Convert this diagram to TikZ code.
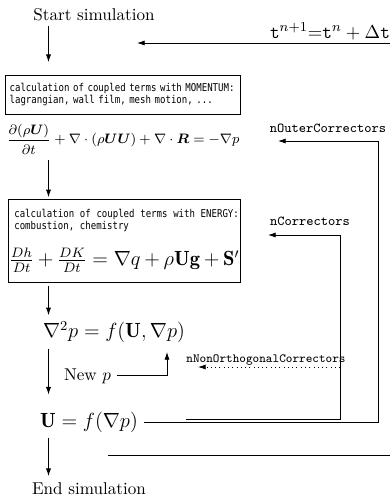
\documentclass[tikz,border=0pt]{standalone}
\usepackage{amsmath,bm}
\usepackage{fontspec}
\newfontfamily\boxmono[FakeStretch=0.84]{DejaVu Sans Mono}
\newcommand\boxfont{\boxmono\fontsize{6.3}{7.2}\selectfont}
\usetikzlibrary{arrows.meta,calc,positioning}
\tikzset{flow/.style={line width=0.5pt, -{Latex[length=4.5pt,width=3pt]}},
  calcbox/.style={draw, thin, align=left, anchor=north west}}

\begin{document}
\begin{tikzpicture}[x=0.585pt, y=-0.585pt]
  \useasboundingbox (0,0) rectangle (390,495);
  \coordinate (col) at (48.5,0);
  % main column
  \node[anchor=base] (start) at (94,20) {Start simulation};
  \node[calcbox, minimum width=137.5pt, minimum height=22.8pt, text width=132.5pt,
    inner xsep=2.5pt, font=\boxfont] (box1) at (5,75)
    {calculation of coupled terms with MOMENTUM:\\lagrangian, wall film, mesh motion, ...};
  \node[font=\fontsize{8.1}{10}\selectfont] (mom) at (123,139)
    {$\displaystyle\frac{\partial(\rho\bm{U})}{\partial t}
    +\nabla\cdot(\rho\bm{U}\bm{U})+\nabla\cdot\bm{R}=-\nabla p$};
  \node[calcbox, minimum width=135.7pt, minimum height=48.6pt, text width=134.7pt,
    inner xsep=0.5pt] (box2) at (8,199)
    {{\boxfont\hspace*{3pt}\mbox{calculation of coupled terms with ENERGY:}\\
      \hspace*{3pt}\mbox{combustion, chemistry}\par}\vspace{7pt}
     {\large$\frac{Dh}{Dt}+\frac{DK}{Dt}=\nabla q+\rho\mathbf{Ug}+\mathbf{S}'$\par}};
  \node[font=\large] (poisson) at (114,332) {$\nabla^2p=f(\mathbf{U},\nabla p)$};
  \node[anchor=base west] (newp) at (58,380) {New $p$};
  \node[font=\large] (ufp) at (89,422) {$\mathbf{U}=f(\nabla p)$};
  \node[anchor=base] (end) at (89,494) {End simulation};
  % loop labels
  \node[anchor=base, font=\fontsize{11}{13}\selectfont] (tstep) at (330,38)
    {$\mathtt{t}^{n+1}{=}\mathtt{t}^{n}+\Delta\mathtt{t}$};
  \node[anchor=base, font=\footnotesize\ttfamily] (outer) at (328,132) {nOuterCorrectors};
  \node[anchor=base, font=\footnotesize\ttfamily] (corr) at (310,225) {nCorrectors};
  \node[anchor=base, font=\fontsize{7.3}{9}\selectfont\ttfamily] (nonorth) at (266,362)
    {nNonOrthogonalCorrectors};
  % loop ends
  \coordinate (tright) at (390,43);
  \coordinate (tin) at (137,43);
  \coordinate (tout) at (108,455);
  \coordinate (outerx) at (378,0);
  \coordinate (outerin) at (278,141);
  \coordinate (corrx) at (340,0);
  \coordinate (corrin) at (268,235);
  \coordinate (corrout) at ($(ufp.east)+(42,-3)$);
  \coordinate (nonin) at (198,367);
  \coordinate (newpup) at (167,352);
  % data path
  \draw[flow, shorten >=7.5pt] (start.south -| col) -- (box1.north -| col);
  \draw[flow, shorten >=1pt] (mom.south -| col) -- (box2.north -| col);
  \draw[flow] (box2.south -| col) ++(0,3) -- (poisson.north -| col);
  \draw[flow, shorten >=6.5pt] (poisson.south -| col) -- (ufp.north -| col);
  \draw[flow] (ufp.south -| col) -- (end.north -| col);
  % correctors
  \draw[flow] (newp.east) -| (newpup);
  \draw[flow, dotted] (nonin -| corrx) -- (nonin);
  \draw[flow] (corrout) -| (corrin -| corrx) -- (corrin);
  \draw[flow] (ufp.east) -| (outerin -| outerx) -- (outerin);
  % time step
  \draw[flow] (tright) -- (tin);
  \draw[line width=0.5pt] (tout) -- (tout -| tright);
\end{tikzpicture}
\end{document}
